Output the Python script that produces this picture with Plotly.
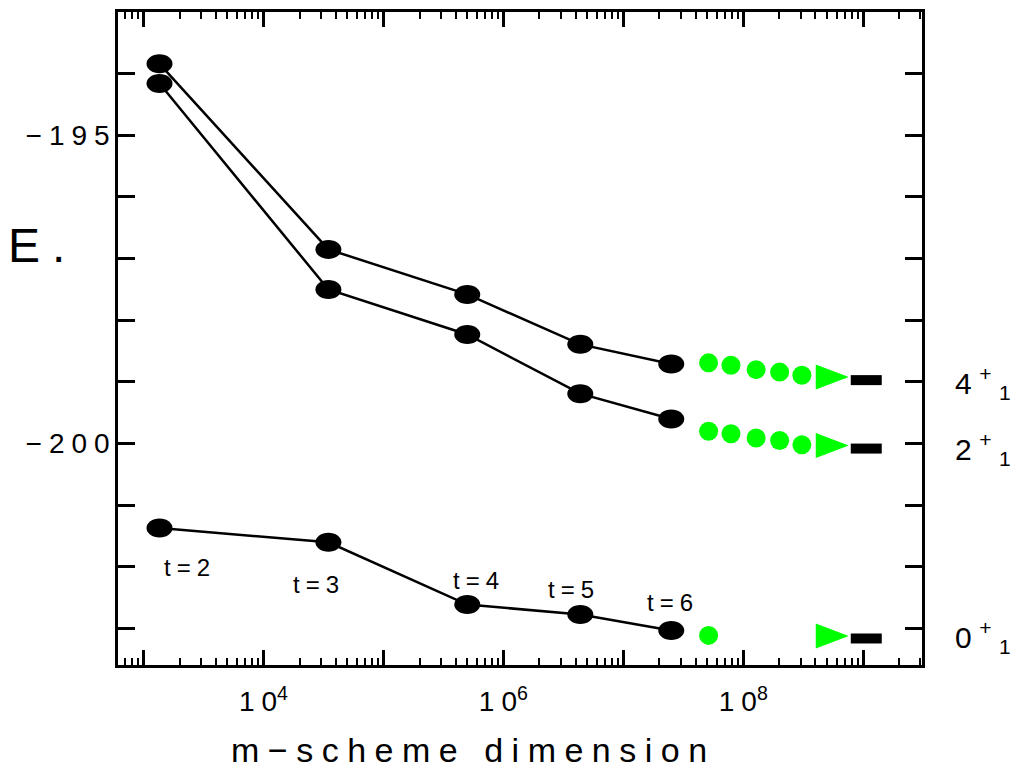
import numpy as np
import plotly.graph_objects as go

# ---------------- data ----------------
t_labels = ["t=2", "t=3", "t=4", "t=5", "t=6"]
dims = [1.36e3, 3.48e4, 5.0e5, 4.38e6, 2.51e7]
E_4 = [-193.84, -196.85, -197.58, -198.39, -198.71]
E_2 = [-194.16, -197.50, -198.23, -199.19, -199.60]
E_0 = [-201.37, -201.60, -202.61, -202.77, -203.03]

extrap_dims = [5.14e7, 7.9e7, 1.28e8, 2.01e8, 3.08e8]
extrap_4 = [-198.69, -198.73, -198.80, -198.84, -198.89]
extrap_2 = [-199.80, -199.84, -199.91, -199.95, -200.02]
extrap_0_dims = [5.14e7]
extrap_0 = [-203.11]

tri_dim = 5.52e8
tri_E = [-198.92, -200.03, -203.12]
lim_dim = 1.06e9
lim_E = [-198.97, -200.08, -203.16]

state_labels = ["4", "2", "0"]
label_E = [-199.02, -200.08, -203.13]

x_major = [1e3, 1e4, 1e5, 1e6, 1e7, 1e8, 1e9]
x_major_text = ["", "1\u20050<sup>4</sup>", "", "1\u20050<sup>6</sup>", "", "1\u20050<sup>8</sup>", ""]
y_ticks = [-203, -202, -201, -200, -199, -198, -197, -196, -195, -194]
y_text = {-200: "\u2212\u20052\u20050\u20050", -195: "\u2212\u20051\u20059\u20055"}

FONT = "Liberation Sans, Arial, Helvetica, sans-serif"
GREEN = "#00FF00"


def spaced(s):
    return "\u2005".join(s)


def ellipse_path(rx, ry):
    k = 0.5523
    return (f"M {-rx},0 "
            f"C {-rx},{k*ry} {-k*rx},{ry} 0,{ry} "
            f"C {k*rx},{ry} {rx},{k*ry} {rx},0 "
            f"C {rx},{-k*ry} {k*rx},{-ry} 0,{-ry} "
            f"C {-k*rx},{-ry} {-rx},{-k*ry} {-rx},0 Z")


fig = go.Figure()

for E in (E_4, E_2, E_0):
    fig.add_trace(go.Scatter(x=dims, y=E, mode="lines",
                             line=dict(color="black", width=2.5),
                             showlegend=False, hoverinfo="skip"))

for xs, ys in ((extrap_dims, extrap_4), (extrap_dims, extrap_2), (extrap_0_dims, extrap_0)):
    fig.add_trace(go.Scatter(x=xs, y=ys, mode="markers",
                             marker=dict(color=GREEN, size=19, line=dict(width=0)),
                             showlegend=False, hoverinfo="skip"))

shapes = []
ell = ellipse_path(13, 9.5)
for E in (E_4, E_2, E_0):
    for d, e in zip(dims, E):
        shapes.append(dict(type="path", xref="x", yref="y",
                           xsizemode="pixel", ysizemode="pixel",
                           xanchor=d, yanchor=e, path=ell,
                           fillcolor="black", line=dict(width=0)))
for e in tri_E:
    shapes.append(dict(type="path", xref="x", yref="y",
                       xsizemode="pixel", ysizemode="pixel",
                       xanchor=tri_dim, yanchor=e,
                       path="M -16.5,-12.5 L 16.5,0 L -16.5,12.5 Z",
                       fillcolor=GREEN, line=dict(width=0)))
for e in lim_E:
    shapes.append(dict(type="path", xref="x", yref="y",
                       xsizemode="pixel", ysizemode="pixel",
                       xanchor=lim_dim, yanchor=e,
                       path="M -15.5,-5 L 15.5,-5 L 15.5,5 L -15.5,5 Z",
                       fillcolor="black", line=dict(width=0)))

annotations = []
t_offsets = [(27, -39), (-12, -42), (9, 24), (-9, 25), (-1, 28)]
for lab, d, e, (dx, dy) in zip(t_labels, dims, E_0, t_offsets):
    annotations.append(dict(x=np.log10(d), y=e, xref="x", yref="y",
                            text=spaced(lab), showarrow=False,
                            xshift=dx, yshift=dy,
                            font=dict(family=FONT, size=24, color="black")))
for lab, e in zip(state_labels, label_E):
    annotations.append(dict(x=1.039, y=e, xref="paper", yref="y",
                            xanchor="left", yanchor="middle",
                            text=lab + "\u2005<sup>+</sup>\u2005<sub>1</sub>",
                            showarrow=False,
                            font=dict(family=FONT, size=30, color="black")))
annotations.append(dict(x=(469 - 118) / 804, y=-0.13, xref="paper", yref="paper",
                        xanchor="center", yanchor="middle",
                        text=spaced("m\u2212scheme dimension"), showarrow=False,
                        font=dict(family=FONT, size=34, color="black")))
annotations.append(dict(x=-0.139, y=0.642, xref="paper", yref="paper",
                        xanchor="left", yanchor="middle",
                        text="E\u2005.", showarrow=False,
                        font=dict(family=FONT, size=48, color="black")))

minor_vals = [k * 10.0 ** n for n in range(2, 10) for k in range(2, 10)]

fig.update_layout(
    width=1017, height=770,
    margin=dict(l=118, r=95, t=9, b=105),
    paper_bgcolor="white", plot_bgcolor="white",
    shapes=shapes, annotations=annotations,
    showlegend=False,
    xaxis=dict(type="log", range=[2.7875, 9.49],
               showline=True, linecolor="black", linewidth=2.5, mirror="ticks",
               ticks="inside", ticklen=15, tickwidth=2.5, tickcolor="black",
               tickmode="array", tickvals=x_major, ticktext=x_major_text,
               tickfont=dict(family=FONT, size=28, color="black"),
               ticklabelstandoff=10,
               showgrid=False, zeroline=False,
               minor=dict(tickmode="array", tickvals=minor_vals, ticks="inside",
                          ticklen=7, tickwidth=2, tickcolor="black", showgrid=False)),
    yaxis=dict(range=[-203.59, -193.0],
               showline=True, linecolor="black", linewidth=2.5, mirror="ticks",
               ticks="inside", ticklen=17, tickwidth=2.5, tickcolor="black",
               tickmode="array", tickvals=y_ticks,
               ticktext=[y_text.get(v, "") for v in y_ticks],
               tickfont=dict(family=FONT, size=28, color="black"),
               showgrid=False, zeroline=False),
)

fig.write_html("out.html",
               config={"displayModeBar": False},
               post_script="document.body.style.margin='0';document.body.style.overflow='hidden';")
